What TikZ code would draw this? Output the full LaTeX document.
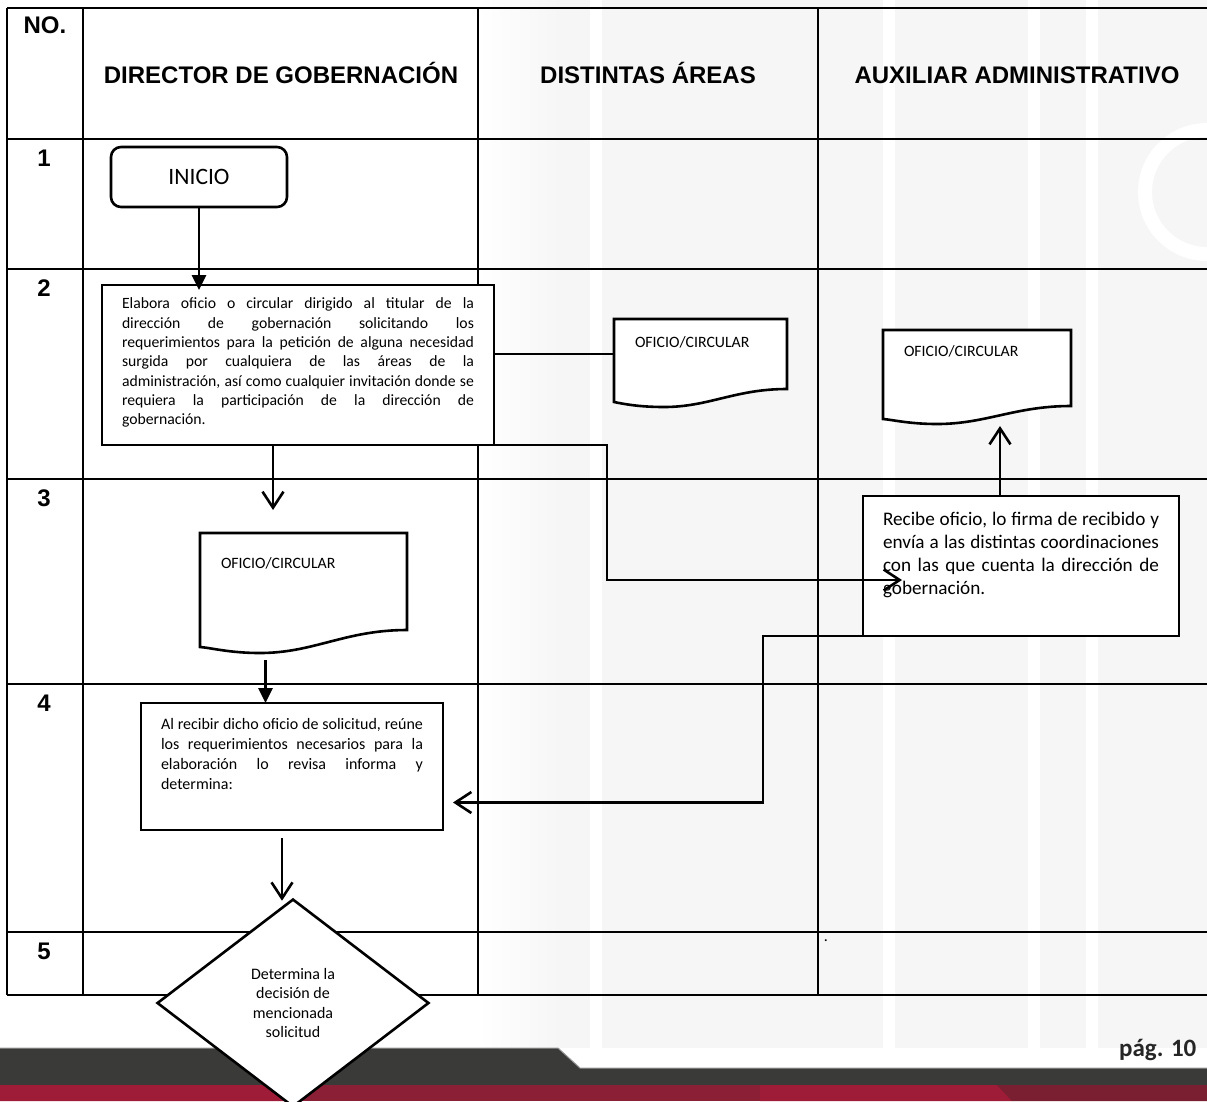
\documentclass[tikz,border=0pt]{standalone}
\usepackage{fontspec}
\setmainfont{Carlito}
\newfontfamily\headfont{Liberation Sans}
\usetikzlibrary{shapes.geometric, positioning, arrows.meta, calc}

\pgfdeclarelayer{backdrop}
\pgfdeclarelayer{docfill}
\pgfsetlayers{backdrop,docfill,main}

\definecolor{footdark}{HTML}{3A3A38}
\definecolor{footred}{HTML}{8A1F35}
\definecolor{footredlight}{HTML}{9E1C37}
\definecolor{footreddark}{HTML}{7A1E31}
\definecolor{markgray}{HTML}{F6F6F6}

\tolerance=10000
\hbadness=10000
\vbadness=10000
\hfuzz=6pt
\vfuzz=20pt
\hyphenpenalty=10000

\begin{document}
\begin{tikzpicture}[
    x=1pt, y=-1pt,
    every path/.append style={line width=2.6pt},
    head/.style={anchor=base, text height=18pt, text depth=5pt, font=\headfont\bfseries\fontsize{24}{28}\selectfont},
    startbox/.style={draw, rectangle, rounded corners=10pt, minimum width=176pt, minimum height=60pt, fill=white, font=\fontsize{23.5}{28}\selectfont},
    procbox/.style={draw, rectangle, anchor=north west, fill=white, inner xsep=20pt, outer sep=0pt},
    docbox/.style={rectangle, anchor=north west, inner xsep=21pt, outer sep=0pt, font=\fontsize{15.8}{19}\selectfont},
    decision/.style={draw, diamond, minimum width=272pt, minimum height=208pt, inner sep=0pt, fill=white, align=center, font=\fontsize{16}{19.5}\selectfont},
    filledarrow/.style={-{Triangle[length=15pt,width=14pt]}},
    openarrow/.style={-{Straight Barb[length=16pt,width=21pt]}}
]
\useasboundingbox (0,0) rectangle (1207,1101);

    % ================= BACKDROP =================
    \begin{pgfonlayer}{backdrop}
    \fill[white] (0,0) rectangle (1207,1101);
    \shade[left color=white, right color=markgray] (478,0) rectangle (560,1048);
    \fill[markgray] (560,0) rectangle (1207,1048);
    \foreach \x in {590,883,1028,1086}
        \fill[white] (\x,0) rectangle ++(12,1048);
    \draw[white, line width=14pt] (1207,130) arc[start angle=270, end angle=90, radius=62];

    % footer bands
    \fill[footdark] (0,1048) -- (558,1048) -- (580,1068) -- (1207,1068) -- (1207,1085) -- (0,1085) -- cycle;
    \draw[black!40, line width=1pt] (0,1048) -- (558,1048) -- (580,1068) -- (1207,1068);
    \fill[footred] (0,1085) rectangle (1207,1101);
    \fill[footredlight] (0,1085) -- (262,1085) -- (290,1101) -- (0,1101) -- cycle;
    \fill[footredlight] (760,1085) -- (997,1085) -- (1012,1101) -- (760,1101) -- cycle;
    \fill[footreddark] (997,1085) -- (1207,1085) -- (1207,1101) -- (1012,1101) -- cycle;

    % table grid
    \foreach \y in {8,139,269,479,684,932,995}
        \draw (7,\y) -- (1207,\y);
    \foreach \x in {7,83,478,818}
        \draw (\x,8) -- (\x,995);
    \end{pgfonlayer}

    % ================= HEADERS =================
    \node[head] (h_no) at (45,33) {NO.};
    \node[head] (h_dir) at (281,83) {DIRECTOR DE GOBERNACIÓN};
    \node[head] (h_areas) at (648,83) {DISTINTAS ÁREAS};
    \node[head] (h_aux) at (1017,83) {AUXILIAR ADMINISTRATIVO};

    \node[head] (n1) at (44,166) {1};
    \node[head] (n2) at (44,296) {2};
    \node[head] (n3) at (44,506) {3};
    \node[head] (n4) at (44,711) {4};
    \node[head] (n5) at (44,959) {5};

    % ================= STEPS =================
    \node[startbox] (inicio) at (199,177) {INICIO};

    \node[procbox, inner ysep=13pt, font=\fontsize{15.7}{19.3}\selectfont] (elabora) at (102,285)
        {\parbox[c][134pt][t]{352pt}{Elabora oficio o circular dirigido al titular de la\linebreak
        dirección de gobernación solicitando los\linebreak
        requerimientos para la petición de alguna necesidad\linebreak
        surgida por cualquiera de las áreas de la\linebreak
        administración, así como cualquier invitación donde se\linebreak
        requiera la participación de la dirección de\linebreak
        gobernación.}};

    \node[docbox, inner ysep=18pt] (circA) at (614,319) {\parbox[c][52pt][t]{131pt}{OFICIO/CIRCULAR}};
    \node[docbox, inner ysep=16pt] (circB) at (883,330) {\parbox[c][62pt][t]{146pt}{OFICIO/CIRCULAR}};
    \node[docbox, inner ysep=25pt] (circC) at (200,533) {\parbox[c][70pt][t]{165pt}{OFICIO/CIRCULAR}};

    \node[procbox, inner ysep=16pt, font=\fontsize{19.2}{23}\selectfont] (recibe) at (863,496)
        {\parbox[c][108pt][t]{276pt}{Recibe oficio, lo firma de recibido y\linebreak
        envía a las distintas coordinaciones\linebreak
        con las que cuenta la dirección de\linebreak
        gobernación.}};

    \node[procbox, inner ysep=15pt, font=\fontsize{16}{20}\selectfont] (reune) at (141,703)
        {\parbox[c][97pt][t]{262pt}{Al recibir dicho oficio de solicitud, reúne\linebreak
        los requerimientos necesarios para la\linebreak
        elaboración lo revisa informa y\linebreak
        determina:}};

    \node[decision] (decide) at (293,1003) {Determina la\\decisión de\\mencionada\\solicitud};

    \node[font=\fontsize{16}{19}\selectfont] (dot) at (826,941) {.};
    \node[anchor=east, text=black!85, font=\bfseries\fontsize{25}{30}\selectfont] (pagina) at (1201,1050) {pág. 10};

    % ================= DOCUMENT OUTLINES =================
    \begin{pgfonlayer}{docfill}
    \draw[fill=white] (circA.north west) -- (circA.north east) -- ($(circA.north east)+(0,70)$)
        .. controls ($(circA.north west)+(121,70)$) and ($(circA.north west)+(95,88)$) .. ($(circA.north west)+(50,88)$)
        .. controls ($(circA.north west)+(25,88)$) and ($(circA.north west)+(10,85)$) .. ($(circA.north west)+(0,83)$) -- cycle;
    \draw[fill=white] (circB.north west) -- (circB.north east) -- ($(circB.north east)+(0,76)$)
        .. controls ($(circB.north west)+(132,76)$) and ($(circB.north west)+(103,94)$) .. ($(circB.north west)+(54,94)$)
        .. controls ($(circB.north west)+(27,94)$) and ($(circB.north west)+(11,90)$) .. ($(circB.north west)+(0,89)$) -- cycle;
    \draw[fill=white] (circC.north west) -- (circC.north east) -- ($(circC.north east)+(0,97)$)
        .. controls ($(circC.north west)+(145,97)$) and ($(circC.north west)+(114,120)$) .. ($(circC.north west)+(60,120)$)
        .. controls ($(circC.north west)+(30,120)$) and ($(circC.north west)+(12,115)$) .. ($(circC.north west)+(0,114)$) -- cycle;
    \end{pgfonlayer}

    % ================= CONNECTIONS =================
    % INICIO - Elabora
    \draw[filledarrow, shorten >=-5pt] (inicio.south) -- (inicio.south |- elabora.north);

    % Elabora - oficio in Distintas Areas
    \draw ([yshift=11pt]elabora.east) -- ([yshift=11pt]elabora.east -| circA.west);

    % Elabora - oficio below
    \draw[openarrow, shorten >=23pt] ([xshift=-25pt]elabora.south) -- ([xshift=-25pt]elabora.south |- circC.north);

    % Elabora - Recibe
    \draw[openarrow, shorten >=-39pt] ([xshift=10pt]elabora.south) -- ++(299,0) |- ([yshift=-14pt]recibe.west);

    % oficio - Reune
    \draw[filledarrow] ([xshift=-38pt,yshift=-7pt]circC.south) -- ([xshift=-38pt]circC.south |- reune.north);

    % Recibe - oficio of Auxiliar
    \draw[openarrow, shorten >=2pt] ([xshift=-21pt]recibe.north) -- ([xshift=-21pt]recibe.north |- circB.south);

    % Recibe - Reune
    \draw[openarrow, shorten >=10pt] ([xshift=52pt]recibe.south) -- ++(-310,0) |- ([yshift=-36pt]reune.east);

    % Reune - decision
    \draw[openarrow, shorten <=8pt, shorten >=-3pt] ([xshift=-10pt]reune.south) -- ([xshift=-10pt]reune.south |- decide.north);

\end{tikzpicture}
\end{document}
